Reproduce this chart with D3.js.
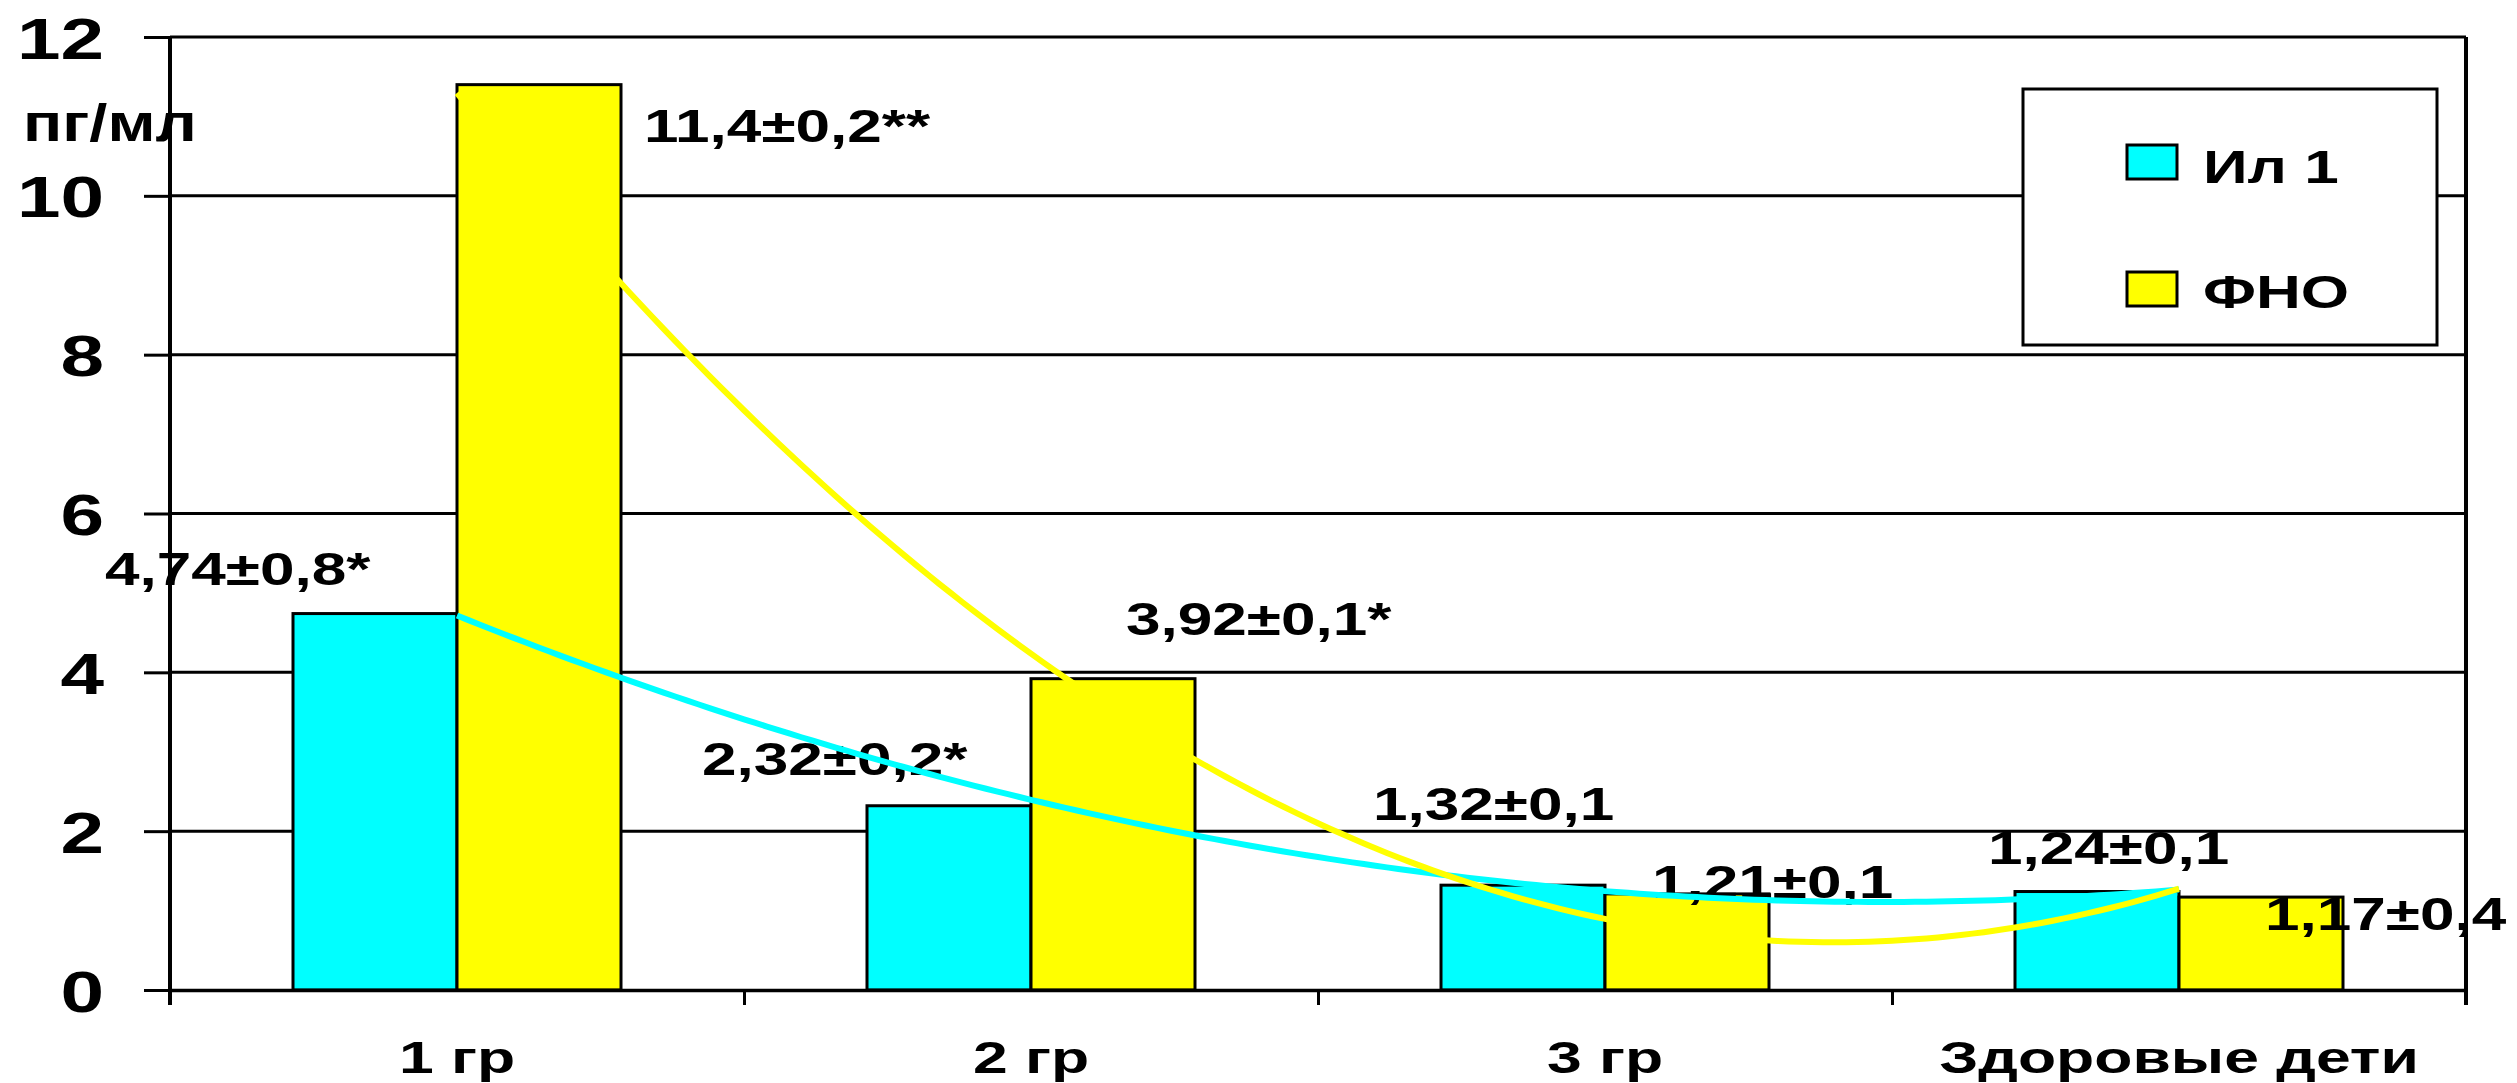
<!DOCTYPE html>
<html>
<head>
<meta charset="utf-8">
<script src="https://cdn.jsdelivr.net/npm/d3@7"></script>
<style>
  body { margin: 0; background: #fff; }
  text { font-family: "Liberation Sans", Arial, sans-serif; font-weight: bold; fill: #000; }
</style>
</head>
<body>
<script>
// chart data
var categories = ["1 гр", "2 гр", "3 гр", "Здоровые дети"];
var seriesNames = ["Ил 1", "ФНО"];
var il1 = [4.74, 2.32, 1.32, 1.24];
var fno = [11.4, 3.92, 1.21, 1.17];
var il1Labels = ["4,74±0,8*", "2,32±0,2*", "1,32±0,1", "1,24±0,1"];
var fnoLabels = ["11,4±0,2**", "3,92±0,1*", "1,21±0,1", "1,17±0,4"];
var yTicks = [0, 2, 4, 6, 8, 10, 12];
var yUnit = "пг/мл";

// label placement (offset from the bar's left/top corner)
var il1LabelPos = [[-188, -29], [-165, -31], [-68, -65], [-27, -28]];
var fnoLabelPos = [[187, 57], [95, -44], [47, 4], [86, 33]];

var W = 2517, H = 1083;
var plotL = 170, plotR = 2466, plotT = 37, plotB = 990;
var SX = 1.35; // the original text is stretched horizontally

var colors = ["#00FFFF", "#FFFF00"];

var svg = d3.select("body").append("svg")
    .attr("width", W)
    .attr("height", H);

var x = d3.scaleBand().domain(categories).range([plotL, plotR]).padding(0);
var y = d3.scaleLinear().domain([0, 12]).range([plotB, plotT]);
var bw = x.bandwidth() / 3.5; // excel gap width 150%
function center(c){ return x(c) + x.bandwidth() / 2; }

function stretch(sel, px, py, anchor, sx){
    sel.attr("transform", "translate(" + px + "," + py + ") scale(" + (sx || SX) + ",1)")
       .attr("text-anchor", anchor);
}

// gridlines
svg.selectAll(".grid")
    .data(yTicks.filter(function(d){ return d > 0; }))
    .enter().append("line")
    .attr("x1", plotL).attr("x2", plotR)
    .attr("y1", function(d){ return y(d); })
    .attr("y2", function(d){ return y(d); })
    .attr("stroke", "#000").attr("stroke-width", 3);

// bars
var series = [il1, fno];
series.forEach(function(vals, s){
    svg.selectAll(".bar" + s)
        .data(vals)
        .enter().append("rect")
        .attr("x", function(d, i){ return center(categories[i]) + (s === 0 ? -bw : 0); })
        .attr("y", function(d){ return y(d); })
        .attr("width", bw)
        .attr("height", function(d){ return y(0) - y(d); })
        .attr("fill", colors[s])
        .attr("stroke", "#000")
        .attr("stroke-width", 3);
});

// value labels
[[il1, il1Labels, il1LabelPos, 0], [fno, fnoLabels, fnoLabelPos, 1]].forEach(function(g){
    g[0].forEach(function(v, i){
        var bx = center(categories[i]) + (g[3] === 0 ? -bw : 0);
        svg.append("text")
            .text(g[1][i])
            .style("font-size", "46px")
            .call(stretch, bx + g[2][i][0], y(v) + g[2][i][1], "start");
    });
});

// polynomial (order 2) trendlines like excel
function quadFit(ys){
    var S = [0, 0, 0, 0, 0], T = [0, 0, 0];
    ys.forEach(function(v, i){
        var t = i + 1;
        for (var k = 0; k < 5; k++) S[k] += Math.pow(t, k);
        for (var k2 = 0; k2 < 3; k2++) T[k2] += Math.pow(t, k2) * v;
    });
    var M = [[S[0], S[1], S[2], T[0]], [S[1], S[2], S[3], T[1]], [S[2], S[3], S[4], T[2]]];
    for (var c = 0; c < 3; c++){
        for (var r = c + 1; r < 3; r++){
            var f = M[r][c] / M[c][c];
            for (var j = c; j < 4; j++) M[r][j] -= f * M[c][j];
        }
    }
    var a = [0, 0, 0];
    for (var r2 = 2; r2 >= 0; r2--){
        var sum = M[r2][3];
        for (var j2 = r2 + 1; j2 < 3; j2++) sum -= M[r2][j2] * a[j2];
        a[r2] = sum / M[r2][r2];
    }
    return function(t){ return a[0] + a[1] * t + a[2] * t * t; };
}

var xc = d3.scaleLinear().domain([1, categories.length])
    .range([center(categories[0]), center(categories[categories.length - 1])]);
var steps = d3.range(1, categories.length + 0.001, 0.02);

series.forEach(function(vals, s){
    var f = quadFit(vals);
    var line = d3.line()
        .x(function(t){ return xc(t); })
        .y(function(t){ return y(f(t)); });
    svg.append("path")
        .datum(steps)
        .attr("d", line)
        .attr("fill", "none")
        .attr("stroke", colors[s])
        .attr("stroke-width", 6);
});

// y axis
var yAxis = svg.append("g")
    .attr("transform", "translate(" + plotL + ",0)")
    .call(d3.axisLeft(y).tickValues(yTicks).tickSize(26).tickSizeOuter(0));
yAxis.select(".domain").remove();
yAxis.selectAll(".tick line").attr("stroke", "#000").attr("stroke-width", 3);
yAxis.selectAll(".tick text")
    .attr("x", null).attr("dy", null)
    .style("font-size", "58px")
    .attr("fill", "#000")
    .each(function(){
        d3.select(this).call(stretch, -66, 21, "end");
    });

svg.append("line")
    .attr("x1", plotL).attr("x2", plotL)
    .attr("y1", plotT).attr("y2", plotB + 15)
    .attr("stroke", "#000").attr("stroke-width", 4);

// x axis
var xEdge = d3.scaleLinear().domain([0, categories.length]).range([plotL, plotR]);
var xAxis = svg.append("g")
    .attr("transform", "translate(0," + plotB + ")")
    .call(d3.axisBottom(xEdge).ticks(categories.length).tickSize(15).tickSizeOuter(0).tickFormat(""));
xAxis.select(".domain").attr("stroke", "#000").attr("stroke-width", 3.5);
xAxis.selectAll(".tick line").attr("stroke", "#000").attr("stroke-width", 3);

svg.append("line")
    .attr("x1", plotR).attr("x2", plotR)
    .attr("y1", plotT).attr("y2", plotB + 15)
    .attr("stroke", "#000").attr("stroke-width", 4);

// category labels
svg.selectAll(".cat")
    .data(categories)
    .enter().append("text")
    .text(function(d){ return d; })
    .style("font-size", "44px")
    .each(function(d){
        d3.select(this).call(stretch, center(d), 1073, "middle", 1.42);
    });

// unit label
svg.append("text")
    .text(yUnit)
    .style("font-size", "52px")
    .attr("transform", "translate(23,141) scale(1.25,1)");

// legend
var lg = svg.append("g");
lg.append("rect")
    .attr("x", 2023).attr("y", 89)
    .attr("width", 414).attr("height", 256)
    .attr("fill", "#fff")
    .attr("stroke", "#000").attr("stroke-width", 3);
seriesNames.forEach(function(name, i){
    lg.append("rect")
        .attr("x", 2127).attr("y", 145 + i * 127)
        .attr("width", 50).attr("height", 34)
        .attr("fill", colors[i])
        .attr("stroke", "#000").attr("stroke-width", 3);
    lg.append("text")
        .text(name)
        .style("font-size", "46px")
        .call(stretch, 2203, 183 + i * 125, "start");
});
</script>
</body>
</html>
